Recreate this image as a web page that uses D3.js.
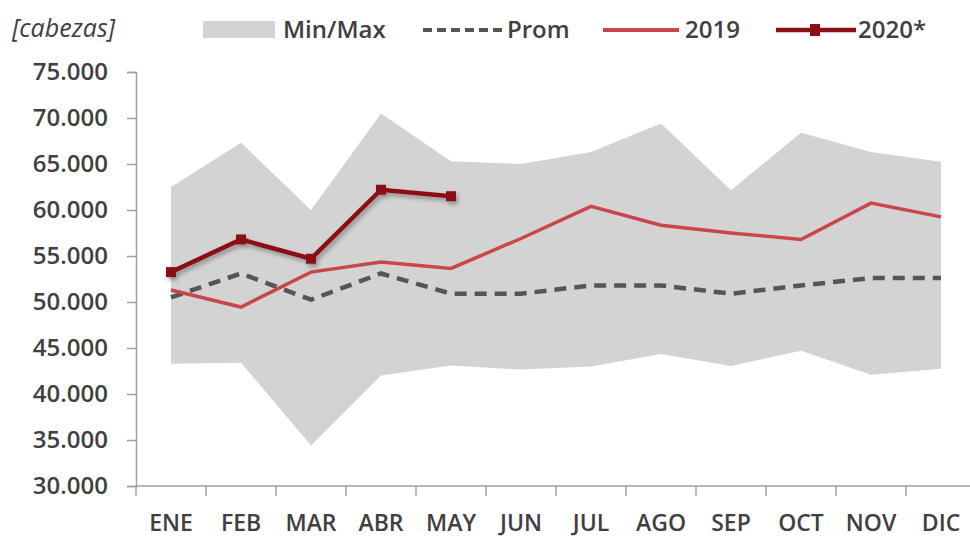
<!DOCTYPE html>
<html>
<head>
<meta charset="utf-8">
<script src="https://cdn.jsdelivr.net/npm/d3@7"></script>
<style>
  body { margin: 0; background: #fff; }
  text { font-family: "Open Sans", sans-serif; fill: #404040; font-weight: 600; }
</style>
</head>
<body>
<script>
var months = ["ENE", "FEB", "MAR", "ABR", "MAY", "JUN", "JUL", "AGO", "SEP", "OCT", "NOV", "DIC"];
var minVals = [43300, 43400, 34400, 42000, 43100, 42650, 43000, 44350, 43050, 44700, 42100, 42750];
var maxVals = [62500, 67300, 60000, 70500, 65300, 65000, 66300, 69400, 62150, 68400, 66300, 65250];
var promVals = [50500, 53100, 50250, 53100, 50900, 50900, 51800, 51800, 50900, 51800, 52600, 52600];
var vals2019 = [51300, 49450, 53250, 54350, 53650, 56900, 60400, 58350, 57500, 56800, 60750, 59250];
var vals2020 = [53250, 56800, 54700, 62200, 61500];
var yTicks = [30000, 35000, 40000, 45000, 50000, 55000, 60000, 65000, 70000, 75000];

var width = 970, height = 537;
var svg = d3.select("body").append("svg").attr("width", width).attr("height", height);

var defs = svg.append("defs");
var f = defs.append("filter").attr("id", "shadow").attr("x", "-20%").attr("y", "-20%").attr("width", "140%").attr("height", "140%");
f.append("feDropShadow").attr("dx", 2).attr("dy", 3).attr("stdDeviation", 2)
  .attr("flood-color", "#555").attr("flood-opacity", 0.55);

var x = d3.scaleBand().domain(months).range([136, 976]);
var cx = function(i) { return x(months[i]) + x.bandwidth() / 2; };
var y = d3.scaleLinear().domain([30000, 75000]).range([486, 72]);

var fmt = d3.formatLocale({ decimal: ",", thousands: ".", grouping: [3], currency: ["", ""] }).format(",");

// min/max band
var area = d3.area()
  .x(function(d, i) { return cx(i); })
  .y0(function(d, i) { return y(minVals[i]); })
  .y1(function(d) { return y(d); });
svg.append("path").datum(maxVals).attr("d", area).attr("fill", "#d3d3d3");

// axes
var yAxis = svg.append("g").attr("transform", "translate(136,0)")
  .call(d3.axisLeft(y).tickValues(yTicks).tickFormat(fmt).tickSize(9).tickPadding(19));
yAxis.select(".domain").attr("stroke", "#a0a0a0").attr("stroke-width", 1.5);
yAxis.selectAll(".tick line").attr("stroke", "#a0a0a0").attr("stroke-width", 1.5);
yAxis.selectAll("text").style("font-size", "24px").attr("fill", "#404040");

var xAxis = svg.append("g").attr("transform", "translate(0,486)")
  .call(d3.axisBottom(x).tickSize(0).tickPadding(29));
xAxis.select(".domain").attr("stroke", "#a0a0a0").attr("stroke-width", 1.5).attr("d", "M136,0H970");
xAxis.selectAll("text").style("font-size", "23px").attr("fill", "#404040");
xAxis.selectAll(".xtick").data(months).enter().append("line")
  .attr("x1", function(d) { return x(d); }).attr("x2", function(d) { return x(d); })
  .attr("y1", 0).attr("y2", 10).attr("stroke", "#a0a0a0").attr("stroke-width", 1.5);

var line = d3.line().x(function(d, i) { return cx(i); }).y(function(d) { return y(d); });

svg.append("path").datum(promVals).attr("d", line).attr("fill", "none")
  .attr("stroke", "#555").attr("stroke-width", 4.5).attr("stroke-dasharray", "12,8");

svg.append("path").datum(vals2019).attr("d", line).attr("fill", "none")
  .attr("stroke", "#c9464a").attr("stroke-width", 3.5);

var g20 = svg.append("g").attr("filter", "url(#shadow)");
g20.append("path").datum(vals2020).attr("d", line).attr("fill", "none")
  .attr("stroke", "#8c0f14").attr("stroke-width", 4.5);
g20.selectAll("rect").data(vals2020).enter().append("rect")
  .attr("x", function(d, i) { return cx(i) - 5; }).attr("y", function(d) { return y(d) - 5; })
  .attr("width", 10).attr("height", 10).attr("fill", "#8c0f14");

// legend
svg.append("text").attr("x", 12).attr("y", 37).style("font-size", "25px").style("font-style", "italic")
  .style("font-weight", "normal").text("[cabezas]");
var lg = svg.append("g").style("font-size", "24px");
lg.append("rect").attr("x", 203).attr("y", 21).attr("width", 72).attr("height", 17).attr("fill", "#d3d3d3");
lg.append("text").attr("x", 283).attr("y", 38).text("Min/Max");
lg.append("line").attr("x1", 423).attr("x2", 505).attr("y1", 30).attr("y2", 30)
  .attr("stroke", "#555").attr("stroke-width", 4).attr("stroke-dasharray", "9,5");
lg.append("text").attr("x", 507).attr("y", 38).text("Prom");
lg.append("line").attr("x1", 603).attr("x2", 679).attr("y1", 30).attr("y2", 30)
  .attr("stroke", "#c9464a").attr("stroke-width", 4);
lg.append("text").attr("x", 685).attr("y", 38).text("2019");
lg.append("line").attr("x1", 776).attr("x2", 856).attr("y1", 30).attr("y2", 30)
  .attr("stroke", "#8c0f14").attr("stroke-width", 4.5);
lg.append("rect").attr("x", 810).attr("y", 24).attr("width", 10).attr("height", 12).attr("fill", "#8c0f14");
lg.append("text").attr("x", 858).attr("y", 38).text("2020*");
</script>
</body>
</html>
